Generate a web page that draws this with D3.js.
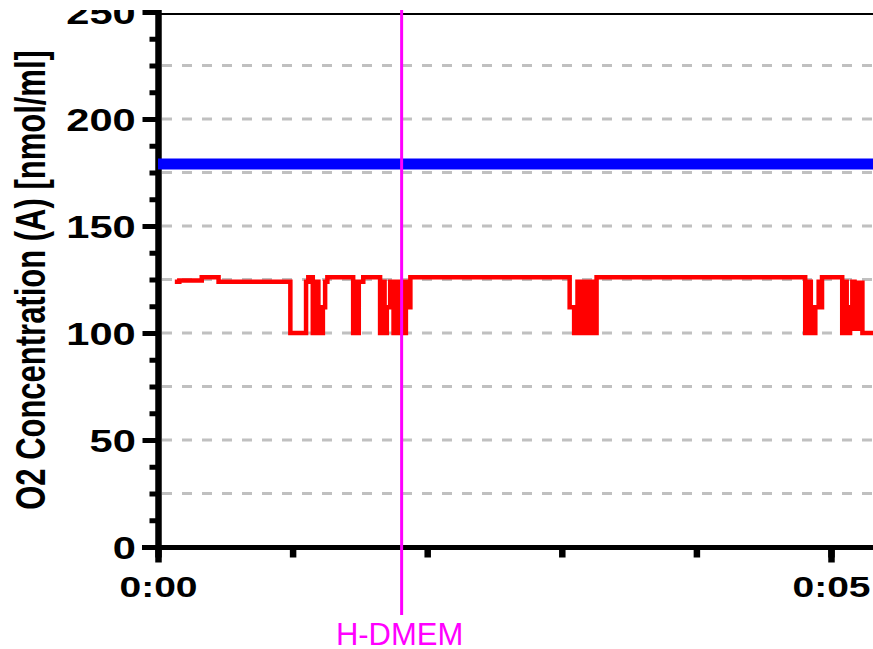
<html>
<head>
  <meta charset="utf-8" />
  <script src="https://cdnjs.cloudflare.com/ajax/libs/d3/7.8.5/d3.min.js"></script>
  <style>
    body { margin: 0; background: #fff; }
    svg { display: block; }
    text { font-family: "Liberation Sans", Arial, sans-serif; }
  </style>
</head>
<body>
  <svg></svg>
  <script>
    // chamber A trace (red), time in seconds, O2 in nmol/ml
    var redTime  = [7.5, 9.5, 19.5, 27, 59, 66, 67, 69, 70.5, 71.5, 73.5, 74.5, 75.5,
                    87, 88, 88.5, 89.5, 91.5,
                    99, 100, 101, 102, 103.5, 105, 106, 107, 108, 109.5, 110.5, 111.5, 112.5,
                    183.5, 185.5, 187, 188, 189.5, 191, 193, 194, 195.5,
                    288.5, 290, 291, 293, 294.5, 295.5, 296,
                    305, 306, 307, 308.5, 309.5, 310.5, 311.5, 312.5, 313.5, 314, 320];
    var redValue = [124, 124.5, 126, 124, 100, 124, 126, 100, 124, 100, 112, 124, 126,
                    100, 124, 100, 124, 126,
                    100, 124, 100, 112, 124, 100, 124, 100, 124, 100, 124, 112, 126,
                    112, 100, 124, 100, 124, 100, 124, 100, 126,
                    100, 124, 100, 112, 124, 112, 126,
                    100, 124, 100, 112, 124, 102, 123.5, 102, 123.5, 100, 100];
    // chamber B trace (blue)
    var blueTime  = [0, 320];
    var blueValue = [179, 179];

    var yTicks = [0, 50, 100, 150, 200, 250];
    var xTickTimes = [0, 300];
    var xTickLabels = ["0:00", "0:05"];
    var markTime = 108.6;
    var markLabel = "H-DMEM";
    var yLabel = "O2 Concentration (A) [nmol/ml]";

    var svg = d3.select("svg").attr("width", 873).attr("height", 649);

    var x = d3.scaleLinear().domain([0, 300]).range([158, 831]);
    var y = d3.scaleLinear().domain([0, 250]).range([547, 12]);

    svg.append("clipPath").attr("id", "clip")
      .append("rect").attr("x", 0).attr("y", 10).attr("width", 873).attr("height", 639);

    var g = svg.append("g").attr("clip-path", "url(#clip)");

    // dashed grid every 25
    g.selectAll(".grid")
      .data(d3.range(25, 250, 25))
      .enter()
      .append("line")
        .attr("class", "grid")
        .attr("x1", 162).attr("x2", 873)
        .attr("y1", d => y(d)).attr("y2", d => y(d))
        .style("stroke", "#c0c0c0")
        .style("stroke-width", 3)
        .style("stroke-dasharray", "10,10")

    // top frame line
    g.append("line")
      .attr("x1", 158).attr("x2", 873)
      .attr("y1", 14).attr("y2", 14)
      .style("stroke", "#000").style("stroke-width", 2)

    // y axis: minor ticks every 12.5, long ticks every 50
    g.append("g")
      .attr("transform", "translate(158.5,0)")
      .call(d3.axisLeft(y).tickValues(d3.range(0, 251, 12.5)).tickSize(9).tickSizeOuter(0).tickFormat(""))
      .call(a => a.select(".domain").remove())
      .selectAll("line").style("stroke-width", 5)

    var yAxis = g.append("g")
      .attr("transform", "translate(158.5,0)")
      .call(d3.axisLeft(y).tickValues(yTicks).tickSize(16).tickSizeOuter(0))
    yAxis.select(".domain").remove()
    yAxis.selectAll("line").style("stroke-width", 5)
    yAxis.selectAll("text")
      .attr("x", -17.5)
      .attr("dy", "0.36em")
      .attr("transform", "scale(1.3,1)")
      .style("font-size", "32px")
      .style("font-weight", "bold")
      .style("font-family", "Liberation Sans, Arial, sans-serif")

    g.append("line")
      .attr("x1", 158.5).attr("x2", 158.5)
      .attr("y1", 10).attr("y2", 550)
      .style("stroke", "#000").style("stroke-width", 6.5)

    // x axis: minute ticks, long ticks every 5 min
    var xAxisMinor = g.append("g")
      .attr("transform", "translate(0,547.5)")
      .call(d3.axisBottom(x).tickValues(d3.range(0, 330, 60)).tickSize(10).tickSizeOuter(0).tickFormat(""))
    xAxisMinor.select(".domain").remove()
    xAxisMinor.selectAll("line").style("stroke-width", 6.5)

    var xAxis = g.append("g")
      .attr("transform", "translate(0,547.5)")
      .call(d3.axisBottom(x).tickValues(xTickTimes).tickSize(15).tickSizeOuter(0)
              .tickFormat((d, i) => xTickLabels[i]))
    xAxis.select(".domain").remove()
    xAxis.selectAll("line").style("stroke-width", 6.5)
    xAxis.selectAll("text")
      .attr("y", 49.5)
      .attr("dy", 0)
      .attr("transform", "scale(1.3,1)")
      .style("font-size", "30px")
      .style("font-weight", "bold")
      .style("font-family", "Liberation Sans, Arial, sans-serif")

    g.append("line")
      .attr("x1", 142).attr("x2", 873)
      .attr("y1", 547.5).attr("y2", 547.5)
      .style("stroke", "#000").style("stroke-width", 5)

    // y axis title
    g.append("text")
      .attr("transform", "translate(45,280) scale(1.35,1) rotate(-90)")
      .attr("text-anchor", "middle")
      .style("font-size", "31px")
      .style("font-weight", "bold")
      .style("fill", "#000")
      .text(yLabel)

    // traces
    var blueLine = d3.line()
      .x((d, i) => x(blueTime[i]))
      .y(d => y(d))
    g.append("path")
      .attr("d", blueLine(blueValue))
      .style("fill", "none")
      .style("stroke", "#0000ff")
      .style("stroke-width", 11)

    var redLine = d3.line()
      .curve(d3.curveStepAfter)
      .x((d, i) => x(redTime[i]))
      .y(d => y(d))
    g.append("path")
      .attr("d", redLine(redValue))
      .style("fill", "none")
      .style("stroke", "#ff0000")
      .style("stroke-width", 4.5)

    // event marker
    g.append("line")
      .attr("x1", x(markTime)).attr("x2", x(markTime))
      .attr("y1", 10).attr("y2", 615)
      .style("stroke", "#ff00ff").style("stroke-width", 3)

    g.append("text")
      .attr("x", x(markTime) - 2)
      .attr("y", 645)
      .attr("text-anchor", "middle")
      .style("font-size", "31px")
      .style("fill", "#ff00ff")
      .text(markLabel)
  </script>
</body>
</html>
